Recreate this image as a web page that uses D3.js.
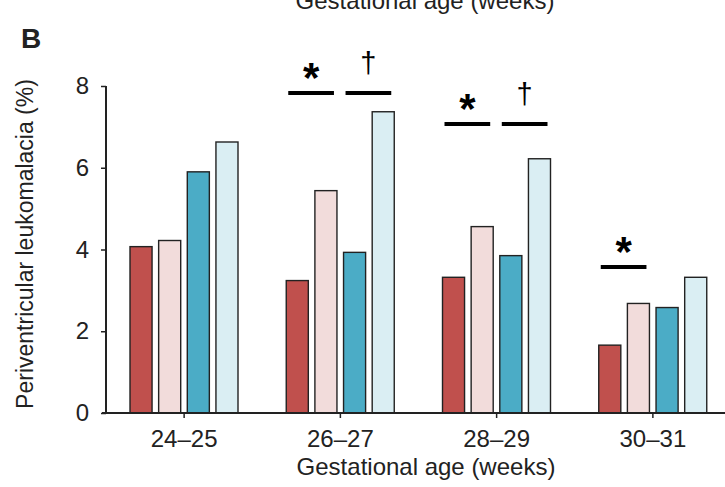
<!DOCTYPE html>
<html>
<head>
<meta charset="utf-8">
<script src="https://cdn.jsdelivr.net/npm/d3@7"></script>
<style>
  body { margin: 0; background: #fff; }
  text { font-family: "Liberation Sans", Arial, sans-serif; fill: #222; }
</style>
</head>
<body>
<svg width="725" height="487"></svg>
<script>
// data
const ages = ['24–25', '26–27', '28–29', '30–31'];
const groups = ['g1', 'g2', 'g3', 'g4'];
const colors = ['#c0504d', '#f2dcdb', '#4bacc6', '#daeef3'];
const values = [
  [4.07, 4.22, 5.90, 6.63],
  [3.24, 5.44, 3.93, 7.37],
  [3.32, 4.56, 3.85, 6.22],
  [1.66, 2.68, 2.58, 3.32]
];
const yTicks = [0, 2, 4, 6, 8];
// significance marks: age, first bar, last bar, height (%), symbol
const sigs = [
  ['26–27', 0, 1, 7.83, '*'],
  ['26–27', 2, 3, 7.83, '†'],
  ['28–29', 0, 1, 7.07, '*'],
  ['28–29', 2, 3, 7.07, '†'],
  ['30–31', 0, 1, 3.57, '*']
];

const svg = d3.select("svg");

const x = d3.scaleBand().domain(ages).range([106, 731]);
const xSub = d3.scaleBand().domain(groups).range([24, 132]).paddingInner(0.23);
const y = d3.scaleLinear().domain([0, 8]).range([413, 86]);

// bars
const g = svg.append("g");
ages.forEach((a, i) => {
  g.selectAll(null)
    .data(values[i])
    .enter().append("rect")
    .attr("x", (d, j) => x(a) + xSub(groups[j]))
    .attr("y", d => y(d))
    .attr("width", xSub.bandwidth())
    .attr("height", d => y(0) - y(d))
    .attr("fill", (d, j) => colors[j])
    .attr("stroke", "#222")
    .attr("stroke-width", 1.4);
});

// y axis
const yAxis = svg.append("g")
  .attr("transform", "translate(106,0)")
  .call(d3.axisLeft(y).tickValues(yTicks).tickSize(5).tickPadding(12));
yAxis.select(".domain").attr("stroke", "#222").attr("stroke-width", 2).attr("d", `M0,${y(8)}V${y(0)}`);
yAxis.selectAll(".tick line").attr("stroke", "#222").attr("stroke-width", 1.5);
yAxis.selectAll(".tick text").style("font-size", "24px").attr("font-family", null);

// x axis
const xAxis = svg.append("g")
  .attr("transform", `translate(0,${y(0)})`)
  .call(d3.axisBottom(x).tickSize(5).tickPadding(12));
xAxis.select(".domain").attr("stroke", "#222").attr("stroke-width", 2).attr("d", "M102,0H731");
xAxis.selectAll(".tick line").attr("stroke", "#222").attr("stroke-width", 1.5);
xAxis.selectAll(".tick text").style("font-size", "24px").attr("font-family", null);

// significance lines and symbols
sigs.forEach(s => {
  const x0 = x(s[0]) + xSub(groups[s[1]]) + 2;
  const x1 = x(s[0]) + xSub(groups[s[2]]) + xSub.bandwidth() - 3;
  svg.append("line")
    .attr("x1", x0).attr("x2", x1)
    .attr("y1", y(s[3])).attr("y2", y(s[3]))
    .attr("stroke", "#000").attr("stroke-width", 4);
  if (s[4] == '*') {
    svg.append("text").text("*")
      .attr("x", (x0 + x1) / 2).attr("y", y(s[3]) - 1)
      .attr("text-anchor", "middle")
      .style("font-size", "42px").style("font-weight", "bold")
      .style("fill", "#000");
  } else {
    svg.append("text").text("†")
      .attr("x", (x0 + x1) / 2).attr("y", y(s[3]) - 20)
      .attr("text-anchor", "middle")
      .style("font-size", "29px")
      .style("fill", "#000");
  }
});

// titles
svg.append("text").text("Gestational age (weeks)")
  .attr("x", 426).attr("y", 475)
  .attr("text-anchor", "middle").style("font-size", "24px");

svg.append("text").text("Gestational age (weeks)")
  .attr("x", 425).attr("y", 9)
  .attr("text-anchor", "middle").style("font-size", "24px");

svg.append("text").text("Periventricular leukomalacia (%)")
  .attr("transform", "translate(33,244) rotate(-90)")
  .attr("text-anchor", "middle").style("font-size", "23px");

svg.append("text").text("B")
  .attr("x", 21).attr("y", 48)
  .style("font-size", "28px").style("font-weight", "bold");

svg.append("text").text("C")
  .attr("x", 19).attr("y", 506)
  .style("font-size", "28px").style("font-weight", "bold");
</script>
</body>
</html>
